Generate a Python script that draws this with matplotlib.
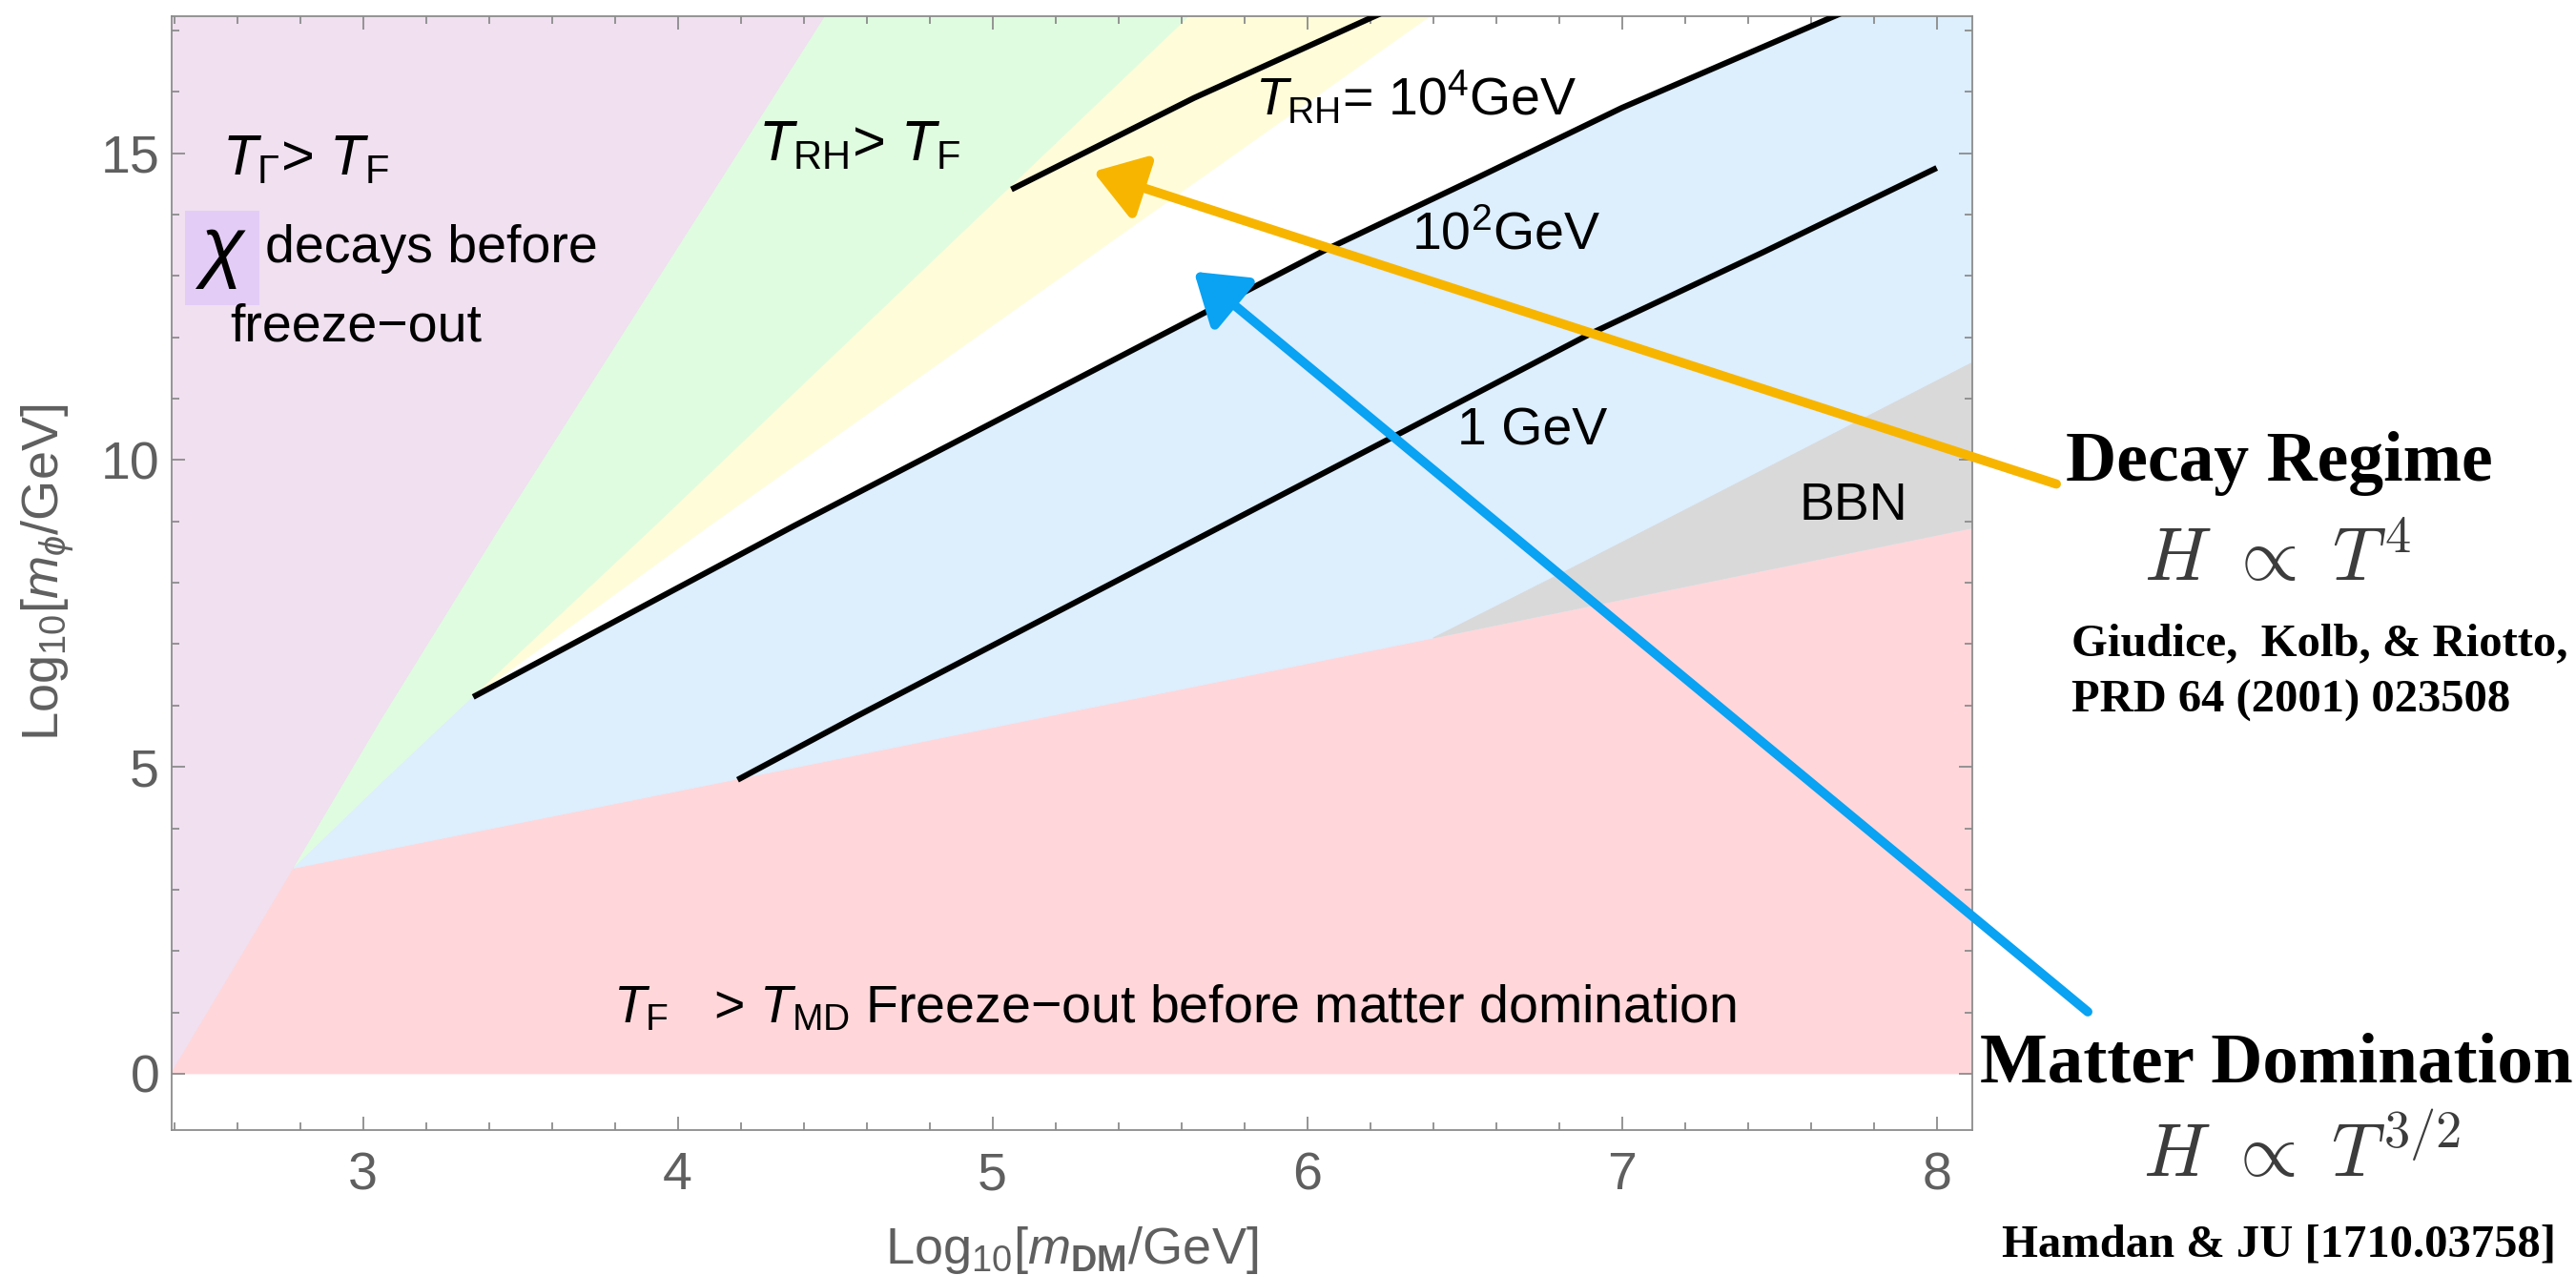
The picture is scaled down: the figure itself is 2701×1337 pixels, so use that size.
import matplotlib
matplotlib.use("Agg")
import matplotlib.pyplot as plt
from matplotlib.patches import Polygon, Rectangle
from matplotlib.ticker import MultipleLocator

plt.rcParams['font.family'] = ['Liberation Sans', 'DejaVu Sans']
plt.rcParams['mathtext.fontset'] = 'custom'
plt.rcParams['mathtext.rm'] = 'Liberation Sans'
plt.rcParams['mathtext.it'] = 'Liberation Sans:italic'
plt.rcParams['mathtext.bf'] = 'Liberation Sans:bold'

# region boundaries: (log10 m_DM, log10 m_phi)
decay_edge_x = [2.39, 2.78, 3.06, 3.44, 4.465]      # T_Gamma = T_F
decay_edge_y = [0.0, 3.35, 5.78, 8.93, 17.2]
rh_edge_x = [2.78, 3.06, 3.35, 3.93, 5.62]          # T_RH = T_F (green side)
rh_edge_y = [3.35, 4.74, 6.14, 8.93, 17.2]
yellow_edge_x = [3.35, 4.10, 6.38]
yellow_edge_y = [6.14, 8.93, 17.2]
md_edge_x = [2.78, 4.42, 6.40, 8.11]                # T_F = T_MD
md_edge_y = [3.35, 5.04, 7.10, 8.89]
bbn_edge_x = [6.40, 6.81, 8.11]
bbn_edge_y = [7.10, 8.16, 11.58]

# reheating temperature contours
trh4_x = [5.06, 5.64, 6.20]
trh4_y = [14.41, 15.90, 17.2]
trh2_x = [3.35, 4.37, 6.06, 6.54, 7.00, 7.66]
trh2_y = [6.14, 8.93, 13.43, 14.6, 15.74, 17.2]
trh0_x = [4.19, 4.57, 6.27, 6.90, 7.45, 8.00]
trh0_y = [4.79, 5.83, 10.37, 12.06, 13.39, 14.76]

# hand drawn arrows (tail, tip)
decay_arrow = [(8.38, 9.61), (5.32, 14.70)]
md_arrow = [(8.48, 1.01), (5.64, 13.07)]

x_ticks = [3, 4, 5, 6, 7, 8]
y_ticks = [0, 5, 10, 15]

LEFT, RIGHT, TOP = 2.2, 8.4, 18.0

c_purple = '#F0E0F0'
c_green = '#E0FCE0'
c_yellow = '#FFFDD9'
c_blue = '#DDEEFD'
c_pink = '#FFD7DA'
c_gray = '#D9D9D9'


def extend(xs, ys, y_end=None, x_end=None):
    # push the last segment past the frame so fills reach the edge
    x0, x1 = xs[-2], xs[-1]
    y0, y1 = ys[-2], ys[-1]
    slope = (y1 - y0) / (x1 - x0)
    if y_end is not None:
        return list(xs) + [x1 + (y_end - y1) / slope], list(ys) + [y_end]
    return list(xs) + [x_end], list(ys) + [y1 + slope * (x_end - x1)]


def pts(xs, ys):
    return list(zip(xs, ys))


fig = plt.figure(figsize=(27.01, 13.37), dpi=100)
ax = fig.add_axes([179.7 / 2701, 1 - 1185 / 1337, (2068 - 179.7) / 2701, (1185 - 16.5) / 1337])

dx, dy = extend(decay_edge_x, decay_edge_y, y_end=TOP)
gx, gy = extend(rh_edge_x, rh_edge_y, y_end=TOP)
yx, yy = extend(yellow_edge_x, yellow_edge_y, y_end=TOP)
mx, my = extend(md_edge_x, md_edge_y, x_end=RIGHT)
bx, by = extend(bbn_edge_x, bbn_edge_y, x_end=RIGHT)
t2x, t2y = extend(trh2_x, trh2_y, y_end=TOP)
t4x, t4y = extend(trh4_x, trh4_y, y_end=TOP)

regions = [
    ([(LEFT, 0)] + pts(dx, dy) + [(LEFT, TOP)], c_purple),
    ([(decay_edge_x[0], 0), (RIGHT, 0)] + pts(mx, my)[::-1], c_pink),
    (pts(dx[1:], dy[1:]) + pts(gx, gy)[::-1], c_green),
    (pts(gx[2:], gy[2:]) + pts(yx, yy)[::-1], c_yellow),
    (pts(gx[:2], gy[:2]) + pts(t2x, t2y) + [(RIGHT, TOP)] + pts(mx, my)[::-1], c_blue),
    (pts(mx[2:], my[2:]) + pts(bx, by)[::-1], c_gray),
]
for verts, col in regions:
    ax.add_patch(Polygon(verts, closed=True, facecolor=col, edgecolor=col, lw=0.6, zorder=1))

for lx, ly in [(t4x, t4y), (t2x, t2y), (trh0_x, trh0_y)]:
    ax.plot(lx, ly, color='black', lw=4.4, solid_capstyle='butt',
            solid_joinstyle='round', zorder=3)

ax.set_xlim(2.391, 8.113)
ax.set_ylim(-0.917, 17.24)
ax.set_xticks(x_ticks)
ax.set_yticks(y_ticks)
ax.xaxis.set_minor_locator(MultipleLocator(0.2))
ax.yaxis.set_minor_locator(MultipleLocator(1))
ax.tick_params(which='both', direction='in', top=True, right=True, color='#8c8c8c', width=1.3)
ax.tick_params(which='major', length=10, labelsize=40, labelcolor='#5f5f5f')
ax.tick_params(which='minor', length=6)
ax.tick_params(axis='x', pad=16)
ax.tick_params(axis='y', pad=9)
for s in ax.spines.values():
    s.set_color('#8c8c8c')
    s.set_linewidth(1.3)

ax.set_xlabel(r'Log$_{10}$[$m_{\mathbf{DM}}$/GeV]', fontsize=39, color='#5f5f5f')
ax.xaxis.label.set_verticalalignment('baseline')
ax.xaxis.set_label_coords(0.5, (1185 - 1325) / 1168.5)
ax.set_ylabel(r'Log$_{10}$[$m_\phi$/GeV]', fontsize=39, color='#5f5f5f')
ax.yaxis.label.set_verticalalignment('baseline')
ax.yaxis.set_label_coords((62 - 179.7) / 1888.3, 0.5)

# labels inside the plane
txt = dict(fontsize=40, color='black', va='baseline', ha='left', zorder=4)
ax.text(2.551, 14.64, r'$T_\Gamma$> $T_\mathrm{F}$', fontsize=43, color='black',
        va='baseline', ha='left', zorder=4)
ax.add_patch(Rectangle((2.435, 12.53), 0.235, 1.535, facecolor='#E3CDF7', edgecolor='none', zorder=2))
ax.text(2.553, 13.40, 'χ', fontsize=60, style='italic', ha='center', va='center', zorder=4)
ax.text(2.690, 13.22, 'decays before', **txt)
ax.text(2.577, 11.94, 'freeze−out', **txt)
ax.text(4.256, 14.88, r'$T_\mathrm{RH}$> $T_\mathrm{F}$', fontsize=43, color='black',
        va='baseline', ha='left', zorder=4)
ax.text(5.835, 15.62, r'$T_\mathrm{RH}$= 10$^4$GeV', **txt)
ax.text(6.33, 13.43, r'10$^2$GeV', **txt)
ax.text(6.476, 10.24, '1 GeV', **txt)
ax.text(7.563, 9.03, 'BBN', **txt)
ax.text(3.795, 0.84, r'$T_\mathrm{F}$   > $T_\mathrm{MD}$ Freeze−out before matter domination', **txt)

# arrows
for (tail, tip), col in [(decay_arrow, '#F7B500'), (md_arrow, '#0AA2F2')]:
    ax.annotate('', xy=tip, xytext=tail, annotation_clip=False,
                arrowprops=dict(arrowstyle='-|>,head_length=1.05,head_width=0.7',
                                color=col, lw=7, mutation_scale=30,
                                shrinkA=0, shrinkB=0),
                zorder=5)

# references on the right
serif = dict(family='Liberation Serif', weight='bold', color='black', va='baseline')
ax.text(9.087, 9.66, 'Decay Regime', fontsize=53, ha='center', **serif)
ax.text(9.083, 8.03, r'$H\ \propto\ T^4$', fontsize=56, ha='center', va='baseline',
        color='#3c3c3c', math_fontfamily='cm')
ax.text(8.428, 6.81, 'Giudice,  Kolb, & Riotto,', fontsize=35, ha='left', **serif)
ax.text(8.428, 5.89, 'PRD 64 (2001) 023508', fontsize=35, ha='left', **serif)
ax.text(9.08, -0.14, 'Matter Domination', fontsize=54, ha='center', **serif)
ax.text(9.16, -1.68, r'$H\ \propto\ T^{3/2}$', fontsize=56, ha='center', va='baseline',
        color='#3c3c3c', math_fontfamily='cm')
ax.text(9.087, -2.98, 'Hamdan & JU [1710.03758]', fontsize=35, ha='center', **serif)

fig.savefig('out.png', dpi=100)
